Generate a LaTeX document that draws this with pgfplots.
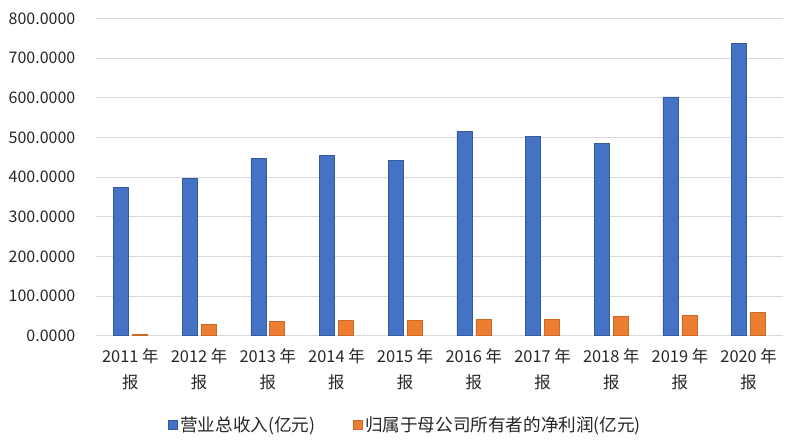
\documentclass[border=0pt]{standalone}
\usepackage{fontspec}
\setmainfont{Noto Sans CJK SC}
\usepackage{pgfplots}
\pgfplotsset{compat=1.18}
\definecolor{xlblue}{HTML}{4472C4}
\definecolor{xlorange}{HTML}{ED7D31}
\definecolor{gridgray}{HTML}{D9D9D9}
\begin{document}
\begin{tikzpicture}
\begin{axis}[
  at={(0,0)}, anchor=south west,
  scale only axis,
  width=515.25pt, height=238pt,
  xmin=-0.5, xmax=9.5,
  ymin=0, ymax=800,
  ytick={0,100,...,800},
  xtick={0,...,9},
  xticklabels={{2011 年\\报},{2012 年\\报},{2013 年\\报},{2014 年\\报},{2015 年\\报},
               {2016 年\\报},{2017 年\\报},{2018 年\\报},{2019 年\\报},{2020 年\\报}},
  xticklabel style={align=center, font=\fontsize{12.3}{19.5}\selectfont, text=black!85, yshift=-6pt},
  yticklabel style={font=\fontsize{12}{14}\selectfont, text=black!85, xshift=-12pt},
  /pgf/number format/assume math mode=true,
  yticklabel={\pgfmathprintnumber[fixed, zerofill, precision=4, 1000 sep={}]{\tick}},
  axis line style={draw=none},
  major tick length=0pt,
  ymajorgrids, grid style={gridgray, line width=0.8pt},
  ybar, bar width=11.25pt,
  legend style={at={(0.451,-0.2815)}, anchor=center, draw=none, fill=none,
                legend columns=2, font=\fontsize{13.2}{15}\selectfont, text=black!85,
                /tikz/every even column/.append style={column sep=26pt}},
  legend image code/.code={\fill[#1] (0pt,-3.4pt) rectangle (6.8pt,3.4pt);},
]
\addplot[bar shift=-7.1pt, fill=xlblue, draw=xlblue!80!black, line width=0.4pt]
  coordinates {(0,374.5) (1,396.5) (2,446.8) (3,455.0) (4,442.6) (5,515.0) (6,503.0) (7,484.6) (8,602.0) (9,736.5)};
\addlegendentry{营业总收入(亿元)}
\addplot[bar shift=7.1pt, fill=xlorange, draw=xlorange!85!black, line width=0.4pt]
  coordinates {(0,4.3) (1,27.7) (2,36.0) (3,39.5) (4,39.5) (5,42.0) (6,42.0) (7,48.0) (8,51.4) (9,59.7)};
\addlegendentry{归属于母公司所有者的净利润(亿元)}
\end{axis}
\pgfresetboundingbox
\useasboundingbox (-72pt,-82pt) rectangle (528pt,251.8pt);
\end{tikzpicture}
\end{document}
